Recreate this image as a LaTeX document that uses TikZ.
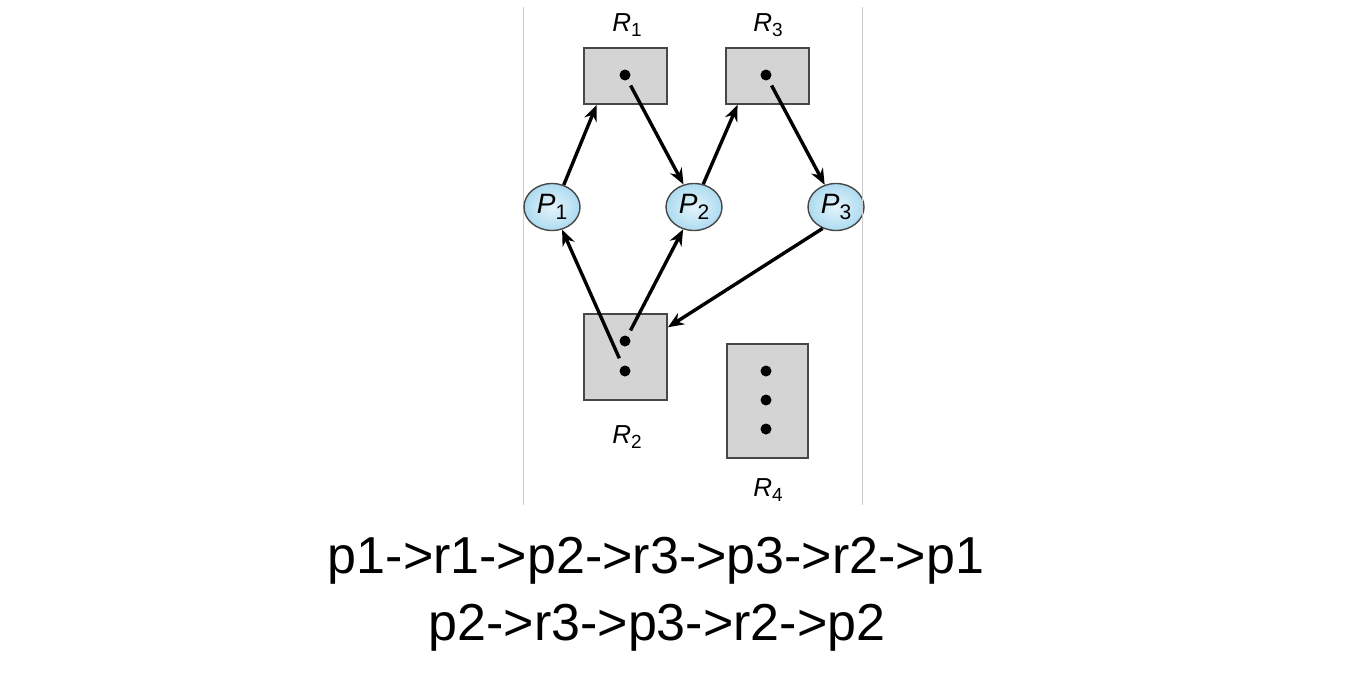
\documentclass[tikz,border=0pt]{standalone}
\usepackage{fontspec}
\setmainfont{Liberation Sans}
\usetikzlibrary{shapes.geometric,arrows.meta}
\definecolor{boxfill}{HTML}{D4D4D4}
\definecolor{boxline}{HTML}{474747}
\definecolor{pin}{HTML}{E4F4FB}
\definecolor{pout}{HTML}{ADDBF0}
\definecolor{frameline}{HTML}{CCCCCC}
\newcommand{\reslbl}[2]{\fontsize{13}{15}\selectfont\textit{#1}\raisebox{-2.5pt}{\fontsize{9.5}{9.5}\selectfont #2}}
\newcommand{\proclbl}[2]{\fontsize{14}{16}\selectfont\textit{#1}\raisebox{-3pt}{\fontsize{10.5}{10.5}\selectfont #2}}
\begin{document}
\begin{tikzpicture}[x=0.5pt,y=-0.5pt,
  resbox/.style={draw=boxline,fill=boxfill,line width=0.9pt,inner sep=0pt,minimum width=41.5pt},
  proc/.style={ellipse,draw=boxline,line width=0.7pt,inner color=pin,outer color=pout,minimum width=28pt,minimum height=23.5pt,inner sep=0pt},
  dotnode/.style={circle,fill=black,inner sep=0pt,minimum size=5.5pt},
  edge/.style={line width=1.7pt,-{Stealth[length=8pt,width=6.5pt]}},
  lbl/.style={inner sep=0pt},
  big/.style={font=\fontsize{26}{30}\selectfont,anchor=base,inner sep=0pt}]
\useasboundingbox (0,0) rectangle (1352,680);
% frame lines
\draw[frameline,line width=0.5pt] (523,7) -- (523,505);
\draw[frameline,line width=0.5pt] (862.5,7) -- (862.5,505);
% resources
\node[resbox,minimum height=28pt] (R1) at (625.5,76) {};
\node[resbox,minimum height=28pt] (R3) at (767.5,76) {};
\node[resbox,minimum height=43pt] (R2) at (625.5,357) {};
\node[resbox,minimum width=40.5pt,minimum height=57pt] (R4) at (767.5,401) {};
\node[dotnode] (d1) at (625,75) {};
\node[dotnode] (d3) at (766,75) {};
\node[dotnode] (d2a) at (625,341) {};
\node[dotnode] (d2b) at (625,371) {};
\node[dotnode] (d4a) at (766,371) {};
\node[dotnode] (d4b) at (766,400) {};
\node[dotnode] (d4c) at (766,429) {};
% labels
\node[lbl] (l1) at (627,25) {\reslbl{R}{1}};
\node[lbl] (l3) at (768,25) {\reslbl{R}{3}};
\node[lbl] (l2) at (627,437) {\reslbl{R}{2}};
\node[lbl] (l4) at (768,490) {\reslbl{R}{4}};
% processes
\node[proc] (P1) at (552,207) {\proclbl{P}{1}};
\node[proc] (P2) at (694,207) {\proclbl{P}{2}};
\node[proc] (P3) at (836,207) {\proclbl{P}{3}};
\draw[frameline,line width=0.5pt] (862.5,180) -- (862.5,235);
% edges
\draw[edge] (P1.62) -- (R1.225.5);
\draw[edge,shorten <=3pt] (d1) -- (P2.115);
\draw[edge] (P2.68) -- (R3.224.5);
\draw[edge,shorten <=3pt] (d3) -- (P3.117);
\draw[edge] (P3.238) -- (R2.35);
\draw[edge,shorten <=4pt] (d2b) -- (P1.294);
\draw[edge,shorten <=3pt] (d2a) -- (P2.244);
% text
\node[big] (t1) at (656,573) {p1->r1->p2->r3->p3->r2->p1};
\node[big] (t2) at (657,640) {p2->r3->p3->r2->p2};
\end{tikzpicture}
\end{document}
